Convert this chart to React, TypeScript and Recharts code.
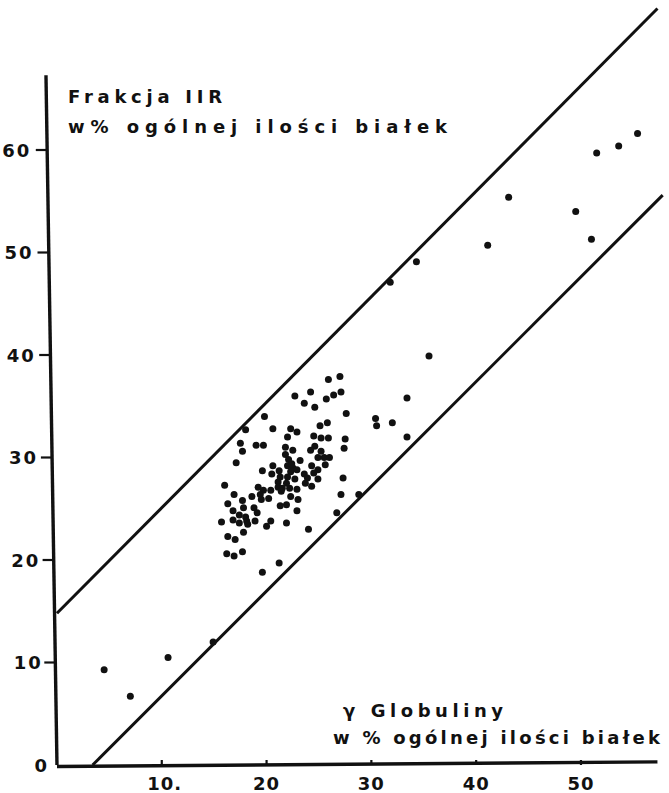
import { ScatterChart, Scatter, XAxis, YAxis, ReferenceLine } from 'recharts'

const FONT = '"DejaVu Sans", sans-serif'
const INK = '#111'

const xTicks = [10, 20, 30, 40, 50]
const xTickLabels = ['10.', '20', '30', '40', '50']
const yTicks = [0, 10, 20, 30, 40, 50, 60]

const yTitle = ['Frakcja IIR', 'w% ogólnej ilości białek']
const xTitle = ['γ Globuliny', 'w % ogólnej ilości białek']

// [gamma globulin %, fraction IIR %]
const lowPoints = [
  [4.5, 9.3], [7.0, 6.7], [10.6, 10.5], [14.9, 12.0],
]

const clusterPoints = [
  [27.0, 37.9], [25.9, 37.6], [27.1, 36.4], [26.4, 36.1], [25.7, 35.7], [24.2, 36.4],
  [22.7, 36.0], [23.6, 35.3], [24.6, 34.9], [27.6, 34.3], [30.4, 33.8], [30.5, 33.1],
  [32.0, 33.4], [19.8, 34.0], [18.0, 32.7], [20.6, 32.8], [22.3, 32.8], [22.9, 32.5],
  [25.8, 33.4], [25.1, 33.1], [24.5, 32.1], [25.2, 31.9], [25.9, 31.9], [27.5, 31.8],
  [22.0, 32.0], [17.5, 31.4], [19.0, 31.2], [19.7, 31.2], [17.7, 30.6], [21.8, 31.0],
  [24.6, 31.1], [27.4, 30.9], [22.5, 30.7], [24.2, 30.7], [25.2, 30.6], [24.9, 30.0],
  [25.5, 30.0], [26.0, 30.0], [22.1, 29.8], [17.1, 29.5], [23.2, 29.7], [25.6, 29.3],
  [20.6, 29.2], [22.0, 29.2], [22.5, 29.0], [19.6, 28.7], [21.2, 28.7], [20.5, 28.4],
  [22.3, 28.6], [22.9, 28.8], [24.9, 28.8], [24.5, 28.5], [23.6, 28.4], [22.0, 28.1],
  [21.3, 28.1], [22.7, 27.9], [23.9, 28.0], [24.9, 27.9], [27.3, 28.0], [21.1, 27.6],
  [21.9, 27.5], [23.7, 27.5], [16.0, 27.3], [24.3, 27.2], [19.2, 27.1], [21.1, 27.1],
  [21.5, 27.0], [21.4, 26.7], [22.2, 27.0], [22.9, 26.9], [20.4, 26.8], [19.7, 26.8],
  [19.4, 26.4], [18.6, 26.2], [16.9, 26.4], [20.2, 26.0], [19.5, 25.9], [17.7, 25.8],
  [22.3, 26.2], [23.0, 25.9], [21.9, 25.4], [21.3, 25.3], [16.3, 25.5], [27.1, 26.4],
  [28.8, 26.4], [17.8, 25.1], [18.8, 25.1], [16.8, 24.8], [19.1, 24.6], [22.9, 24.8],
  [26.7, 24.6], [17.4, 24.4], [18.0, 24.2], [16.8, 23.9], [15.7, 23.7], [17.4, 23.6],
  [18.1, 23.8], [18.9, 23.8], [18.2, 23.5], [20.4, 23.8], [20.0, 23.3], [21.9, 23.6],
  [17.8, 22.7], [16.3, 22.3], [17.0, 22.0], [24.0, 23.0], [16.2, 20.6], [16.9, 20.4],
  [17.7, 20.8], [21.2, 19.7], [19.6, 18.8], [21.8, 30.3], [22.4, 29.4], [24.3, 29.2],
]

const highPoints = [
  [31.8, 47.1], [34.3, 49.1], [35.5, 39.9], [33.4, 35.8], [33.4, 32.0], [41.1, 50.7],
  [43.1, 55.4], [49.5, 54.0], [51.0, 51.3], [51.5, 59.7], [53.6, 60.4], [55.4, 61.6],
]

// hand-drawn limit lines and axes of the original figure
const upperBound = [{ x: 0, y: 14.8 }, { x: 57.3, y: 73.8 }]
const lowerBound = [{ x: 3.4, y: 0 }, { x: 57.8, y: 55.6 }]
const xAxisLine = [{ x: 0, y: -0.15 }, { x: 57.3, y: 0.3 }]
const yAxisLine = [{ x: 0, y: 0 }, { x: -1.05, y: 67.3 }]

const toRows = (pts: number[][]) => pts.map(([x, y]) => ({ x, y }))
const data = toRows([...lowPoints, ...clusterPoints, ...highPoints])

const Dot = (props: any) => <circle cx={props.cx} cy={props.cy} r={3.5} fill={INK} />

const XTick = ({ x, y, payload }: any) => {
  const i = xTicks.indexOf(payload.value)
  const label = xTickLabels[i] ?? String(payload.value)
  return (
    <g>
      <line x1={x} y1={y} x2={x} y2={y - 5} stroke={INK} strokeWidth={2.2} />
      <text x={x + (label.endsWith('.') ? 3 : 0)} y={y + 25} textAnchor="middle"
        fontFamily={FONT} fontWeight="bold" fontSize={18} letterSpacing={1} fill={INK}>
        {label}
      </text>
    </g>
  )
}

const YTick = ({ x, y, payload }: any) => {
  const v = payload.value
  const ax = x + 12.6 - v * 0.17
  return (
    <g>
      {v > 0 && <line x1={ax - 11} y1={y} x2={ax} y2={y} stroke={INK} strokeWidth={2.2} />}
      <text x={v > 0 ? ax - 12 - v * 0.06 : ax - 8} y={y + 6.5} textAnchor="end"
        fontFamily={FONT} fontWeight="bold" fontSize={18} letterSpacing={2} fill={INK}>
        {v}
      </text>
    </g>
  )
}

export default function App() {
  const textStyle = { fontFamily: FONT, fontWeight: 'bold' as const, fontSize: 18, fill: INK }
  return (
    <div style={{ position: 'absolute', left: 0, top: 0, width: 669, height: 793, background: '#fff' }}>
      <ScatterChart width={669} height={793} margin={{ top: 6.5, right: 4.2, bottom: 0, left: 0 }}>
        <XAxis type="number" dataKey="x" domain={[-1.2, 58]} ticks={xTicks} interval={0}
          height={28} axisLine={false} tickLine={false} tickSize={0} tickMargin={0}
          allowDataOverflow tick={<XTick />} />
        <YAxis type="number" dataKey="y" domain={[0, 74]} ticks={yTicks} interval={0}
          width={44.4} axisLine={false} tickLine={false} tickSize={0} tickMargin={0}
          allowDataOverflow tick={<YTick />} />
        <ReferenceLine segment={xAxisLine} stroke={INK} strokeWidth={3.4} ifOverflow="visible" />
        <ReferenceLine segment={yAxisLine} stroke={INK} strokeWidth={3.4} ifOverflow="visible" />
        <ReferenceLine segment={upperBound} stroke={INK} strokeWidth={3} ifOverflow="visible" />
        <ReferenceLine segment={lowerBound} stroke={INK} strokeWidth={3} ifOverflow="visible" />
        <Scatter data={data} shape={<Dot />} isAnimationActive={false} />
      </ScatterChart>
      <svg width={669} height={793} style={{ position: 'absolute', left: 0, top: 0, pointerEvents: 'none' }}>
        <text x={68} y={103} textLength={154} lengthAdjust="spacing" {...textStyle}>{yTitle[0]}</text>
        <text x={68} y={133} textLength={379} lengthAdjust="spacing" {...textStyle}>{yTitle[1]}</text>
        <text x={343} y={717} textLength={160} lengthAdjust="spacing" {...textStyle}>{xTitle[0]}</text>
        <text x={333} y={744} textLength={327} lengthAdjust="spacing" {...textStyle}>{xTitle[1]}</text>
      </svg>
    </div>
  )
}
